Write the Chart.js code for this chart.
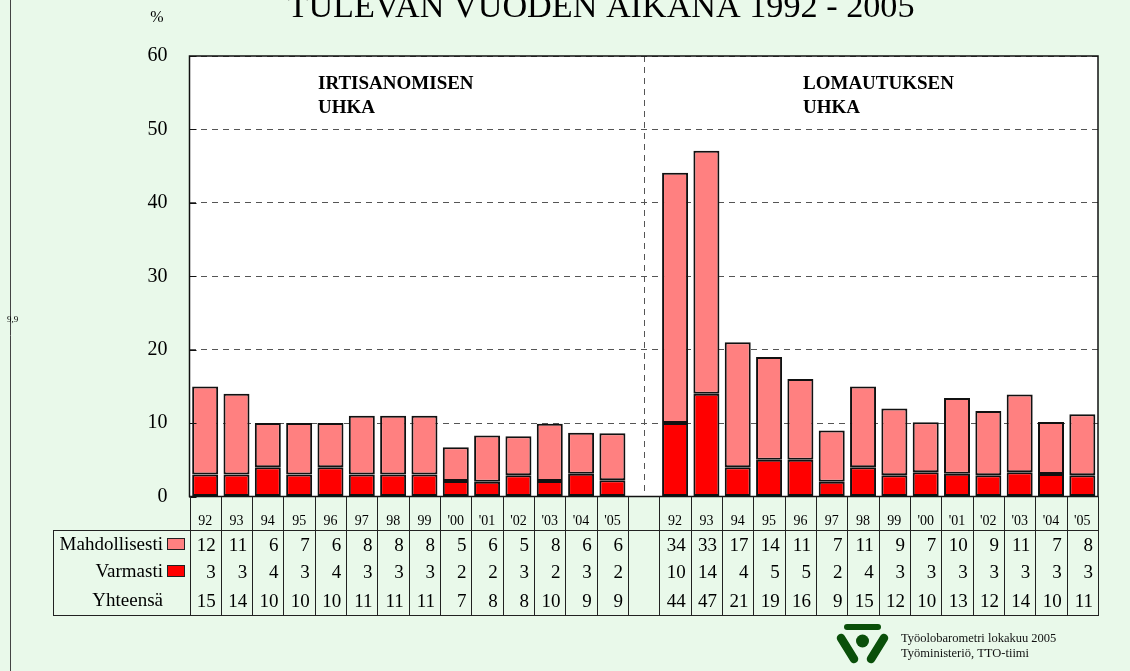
<!DOCTYPE html>
<html>
<head>
<meta charset="utf-8">
<script src="https://cdn.jsdelivr.net/npm/chart.js@4/dist/chart.umd.min.js"></script>
<style>
  html, body { margin: 0; background: #e9f9ea; }
  canvas { display: block; }
</style>
</head>
<body>
<canvas id="chart" width="1130" height="671"></canvas>
<script>
const years = ["92", "93", "94", "95", "96", "97", "98", "99", "'00", "'01", "'02", "'03", "'04", "'05"];

// irtisanomisen uhka (%)
const irtVarmasti = [3, 3, 4, 3, 4, 3, 3, 3, 2.1, 2.0, 2.9, 2.1, 3.1, 2.2];
const irtMahdollisesti = [12, 11, 6, 7, 6, 8, 8, 8, 4.6, 6.3, 5.3, 7.8, 5.6, 6.4];

// lomautuksen uhka (%)
const lomVarmasti = [10, 14, 4, 5, 5, 2, 4, 2.9, 3.3, 3.1, 2.9, 3.3, 3.05, 2.9];
const lomMahdollisesti = [34.1, 33.1, 17, 14, 11, 7, 11, 9.1, 6.8, 10.3, 8.75, 10.6, 7.1, 8.3];

// table rows as printed under the chart
const tabMahd = [12, 11, 6, 7, 6, 8, 8, 8, 5, 6, 5, 8, 6, 6, null, 34, 33, 17, 14, 11, 7, 11, 9, 7, 10, 9, 11, 7, 8];
const tabVarm = [3, 3, 4, 3, 4, 3, 3, 3, 2, 2, 3, 2, 3, 2, null, 10, 14, 4, 5, 5, 2, 4, 3, 3, 3, 3, 3, 3, 3];
const tabYht = [15, 14, 10, 10, 10, 11, 11, 11, 7, 8, 8, 10, 9, 9, null, 44, 47, 21, 19, 16, 9, 15, 12, 10, 13, 12, 14, 10, 11];

const labels = years.concat([""], years);
const varmasti = irtVarmasti.concat([null], lomVarmasti);
const mahdollisesti = irtMahdollisesti.concat([null], lomMahdollisesti);

const SERIF = '"Liberation Serif", "Times New Roman", serif';
const PINK = "#ff8080";
const RED = "#ff0000";

const decor = {
  id: "decor",
  beforeDraw(chart) {
    const { ctx, chartArea: a } = chart;
    ctx.save();
    ctx.fillStyle = "#e9f9ea";
    ctx.fillRect(0, 0, chart.width, chart.height);
    ctx.fillStyle = "#ffffff";
    ctx.fillRect(a.left, a.top, a.right - a.left, a.bottom - a.top);
    ctx.restore();
  },
  beforeDatasetsDraw(chart) {
    const { ctx, chartArea: a, scales: { x } } = chart;
    // dashed divider between the two groups
    const gx = Math.round(x.getPixelForValue(14)) + 0.5;
    ctx.save();
    ctx.strokeStyle = "#555";
    ctx.lineWidth = 1;
    ctx.setLineDash([6, 5]);
    ctx.beginPath();
    ctx.moveTo(gx, a.top);
    ctx.lineTo(gx, a.bottom);
    ctx.stroke();
    ctx.restore();
  },
  afterDraw(chart) {
    const { ctx, chartArea: a, scales: { x, y } } = chart;
    ctx.save();

    // plot frame
    ctx.strokeStyle = "#111";
    ctx.lineWidth = 1.5;
    ctx.strokeRect(a.left, a.top, a.right - a.left, a.bottom - a.top);

    // small inner ticks on the y axis
    ctx.lineWidth = 1;
    y.ticks.forEach(t => {
      const py = Math.round(y.getPixelForValue(t.value)) + 0.5;
      ctx.beginPath();
      ctx.moveTo(a.left, py);
      ctx.lineTo(a.left + 7, py);
      ctx.stroke();
    });

    // left page rule
    ctx.strokeStyle = "#444";
    ctx.beginPath();
    ctx.moveTo(10.5, 0);
    ctx.lineTo(10.5, chart.height);
    ctx.stroke();

    // data table
    const slot = x.getPixelForValue(1) - x.getPixelForValue(0);
    const tTop = 530, tBot = 615, tLeft = 53;
    ctx.strokeStyle = "#222";
    ctx.lineWidth = 1;
    ctx.strokeRect(tLeft + 0.5, tTop + 0.5, a.right - tLeft, tBot - tTop);
    for (let i = 0; i <= labels.length; i++) {
      const bx = Math.round(x.getPixelForValue(i) - slot / 2) + 0.5;
      ctx.beginPath();
      ctx.moveTo(bx, a.bottom);
      ctx.lineTo(bx, tBot);
      ctx.stroke();
    }

    const rows = [
      { name: "Mahdollisesti", vals: tabMahd, color: PINK, y: 545 },
      { name: "Varmasti", vals: tabVarm, color: RED, y: 572 },
      { name: "Yhteensä", vals: tabYht, color: null, y: 601 }
    ];
    ctx.font = "19px " + SERIF;
    ctx.textBaseline = "middle";
    rows.forEach(r => {
      ctx.fillStyle = "#000";
      ctx.textAlign = "right";
      ctx.fillText(r.name, 163, r.y);
      if (r.color) {
        ctx.fillStyle = r.color;
        ctx.fillRect(167.5, r.y - 6.5, 17, 11);
        ctx.strokeStyle = "#222";
        ctx.strokeRect(167.5, r.y - 6.5, 17, 11);
      }
      ctx.fillStyle = "#000";
      r.vals.forEach((v, i) => {
        if (v === null) return;
        ctx.fillText(String(v), x.getPixelForValue(i) + slot / 2 - 5, r.y + 1);
      });
    });

    // group captions
    ctx.font = "bold 19px " + SERIF;
    ctx.textAlign = "left";
    ctx.fillText("IRTISANOMISEN", 318, 84);
    ctx.fillText("UHKA", 318, 108);
    ctx.fillText("LOMAUTUKSEN", 803, 84);
    ctx.fillText("UHKA", 803, 108);

    // title, cut at the top edge
    ctx.font = "34px " + SERIF;
    ctx.textAlign = "center";
    ctx.textBaseline = "alphabetic";
    const title = "TULEVAN VUODEN AIKANA 1992 - 2005";
    const tw = ctx.measureText(title).width;
    ctx.translate(601, 17);
    ctx.scale(627 / tw, 1);
    ctx.fillText(title, 0, 0);
    ctx.setTransform(1, 0, 0, 1, 0, 0);

    ctx.font = "16px " + SERIF;
    ctx.textBaseline = "middle";
    ctx.fillText("%", 157, 18);

    ctx.font = "9px " + SERIF;
    ctx.textAlign = "left";
    ctx.fillText("9,9", 7, 320);

    // footer
    ctx.font = "12.5px " + SERIF;
    ctx.fillStyle = "#111";
    ctx.fillText("Työolobarometri lokakuu 2005", 901, 639);
    ctx.fillText("Työministeriö, TTO-tiimi", 901, 654);

    // logo
    ctx.strokeStyle = "#0a500a";
    ctx.fillStyle = "#0a500a";
    ctx.lineCap = "round";
    ctx.lineWidth = 6;
    ctx.beginPath();
    ctx.moveTo(847, 627);
    ctx.lineTo(878, 627);
    ctx.stroke();
    ctx.lineWidth = 8.5;
    ctx.beginPath();
    ctx.moveTo(841, 638);
    ctx.lineTo(854, 659);
    ctx.moveTo(884, 638);
    ctx.lineTo(871, 659);
    ctx.stroke();
    ctx.beginPath();
    ctx.arc(862.5, 641, 6.5, 0, Math.PI * 2);
    ctx.fill();

    ctx.restore();
  }
};

new Chart(document.getElementById("chart"), {
  type: "bar",
  data: {
    labels: labels,
    datasets: [
      {
        label: "Varmasti",
        data: varmasti,
        backgroundColor: RED,
        borderColor: "#111",
        borderWidth: 2,
        borderSkipped: false
      },
      {
        label: "Mahdollisesti",
        data: mahdollisesti,
        backgroundColor: PINK,
        borderColor: "#111",
        borderWidth: 2,
        borderSkipped: false
      }
    ]
  },
  plugins: [decor],
  options: {
    responsive: false,
    animation: false,
    devicePixelRatio: 1,
    layout: { padding: { left: 0, right: 32, top: 56, bottom: 0 } },
    datasets: { bar: { categoryPercentage: 1, barPercentage: 0.83 } },
    plugins: { legend: { display: false }, tooltip: { enabled: false } },
    scales: {
      x: {
        stacked: true,
        grid: { display: false },
        border: { display: false },
        ticks: {
          autoSkip: false,
          maxRotation: 0,
          padding: 8,
          color: "#000",
          font: { family: SERIF, size: 14 }
        },
        afterFit: s => { s.height = 174.5; }
      },
      y: {
        stacked: true,
        min: 0,
        max: 60,
        border: { display: false, dash: [6, 5] },
        grid: {
          drawTicks: false,
          color: "#555",
          lineWidth: 1
        },
        ticks: {
          stepSize: 10,
          padding: 22,
          color: "#000",
          font: { family: SERIF, size: 20 }
        },
        afterFit: s => { s.width = 189.5; }
      }
    }
  }
});
</script>
</body>
</html>
